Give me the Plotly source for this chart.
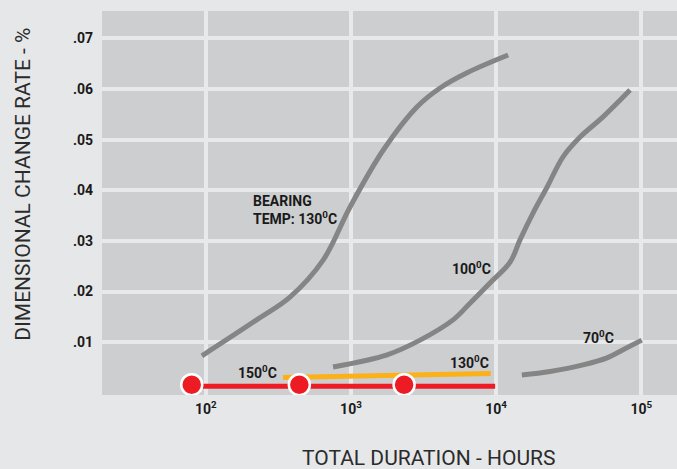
import plotly.graph_objects as go

# ---- data (hours, % change) ----
bearing130_x = [94, 224, 380, 643, 986, 1666, 2858, 4113, 6310, 12100]
bearing130_y = [0.0073, 0.0144, 0.0189, 0.0262, 0.0367, 0.0479, 0.0565, 0.0602, 0.0632, 0.0667]

t100_x = [753, 1775, 2992, 5050, 6610, 9070, 12480, 14600, 17950, 22420, 28900, 37860, 54500, 83700]
t100_y = [0.0051, 0.0075, 0.0104, 0.0144, 0.0177, 0.0217, 0.0258, 0.0302, 0.0355, 0.0406, 0.0466, 0.0505, 0.0545, 0.0598]

t70_x = [15030, 23550, 39720, 58080, 74850, 100700]
t70_y = [0.0035, 0.0042, 0.0055, 0.0069, 0.0085, 0.0104]

t130_x = [340, 9180]
t130_y = [0.0030, 0.0038]

t150_x = [80, 9840]
t150_y = [0.0013, 0.0013]

t150_pts_x = [80, 441, 2323]
t150_pts_y = [0.0016, 0.0016, 0.0016]

x_tickvals = [100, 1000, 10000, 100000]
x_ticktext = ["10<sup>2</sup>", "10<sup>3</sup>", "10<sup>4</sup>", "10<sup>5</sup>"]
y_tickvals = [0.01, 0.02, 0.03, 0.04, 0.05, 0.06, 0.07]
y_ticktext = [".01", ".02", ".03", ".04", ".05", ".06", ".07"]

GRAY = "#858585"
ORANGE = "#fbb117"
RED = "#ed1c24"
FONT = "Roboto"

fig = go.Figure()
for xs, ys in [(bearing130_x, bearing130_y), (t100_x, t100_y), (t70_x, t70_y)]:
    fig.add_trace(go.Scatter(x=xs, y=ys, mode="lines",
                             line=dict(color=GRAY, width=5, shape="spline", smoothing=1.0),
                             hoverinfo="skip"))
fig.add_trace(go.Scatter(x=t130_x, y=t130_y, mode="lines",
                         line=dict(color=ORANGE, width=5), hoverinfo="skip"))
fig.add_trace(go.Scatter(x=t150_x, y=t150_y, mode="lines",
                         line=dict(color=RED, width=5), hoverinfo="skip"))
fig.add_trace(go.Scatter(x=t150_pts_x, y=t150_pts_y, mode="markers",
                         marker=dict(color=RED, size=21, line=dict(color="white", width=2.5)),
                         hoverinfo="skip"))

lab_font = dict(family=FONT, size=14, color="#1a1a1a", weight=700)
def deg(t):
    return t + "<sup>0</sup>C"

anns = [
    dict(x=2.316, y=0.0397, text="BEARING<br>TEMP: " + deg("130"), xanchor="left", yanchor="top", align="left"),
    dict(x=3.970, y=0.0247, text=deg("100"), xanchor="right", yanchor="middle"),
    dict(x=3.958, y=0.0061, text=deg("130"), xanchor="right", yanchor="middle"),
    dict(x=4.819, y=0.0111, text=deg("70"), xanchor="right", yanchor="middle"),
    dict(x=2.213, y=0.0042, text=deg("150"), xanchor="left", yanchor="middle"),
]
for a in anns:
    fig.add_annotation(xref="x", yref="y", showarrow=False, font=lab_font, borderpad=0, **a)

title_font = dict(family=FONT, size=21, color="#2b2b2b")
fig.add_annotation(xref="paper", yref="paper", x=0.567, y=-0.164, text="TOTAL DURATION - HOURS",
                   showarrow=False, xanchor="center", yanchor="middle", font=title_font)
fig.add_annotation(xref="paper", yref="paper", x=-0.139, y=0.548, text="DIMENSIONAL CHANGE RATE - %",
                   showarrow=False, xanchor="center", yanchor="middle", textangle=-90, font=title_font)

fig.update_layout(
    width=677, height=469,
    margin=dict(l=102, r=0, t=11, b=74),
    paper_bgcolor="#e6e7e8",
    plot_bgcolor="#cdcecf",
    showlegend=False,
    xaxis=dict(type="log", range=[1.285, 5.246],
               tickvals=x_tickvals, ticktext=x_ticktext,
               showgrid=True, gridcolor="#e8e9eb", gridwidth=4,
               zeroline=False, showline=False, ticks="",
               ticklabelstandoff=4,
               tickfont=dict(family=FONT, size=14, color="#1a1a1a", weight=700)),
    yaxis=dict(range=[-0.00044, 0.0754],
               tickvals=y_tickvals, ticktext=y_ticktext,
               showgrid=True, gridcolor="#e8e9eb", gridwidth=4,
               zeroline=False, showline=False, ticks="",
               ticklabelstandoff=8,
               tickfont=dict(family=FONT, size=14, color="#1a1a1a", weight=700)),
)

fig.write_html("out.html", config={"displayModeBar": False},
               post_script="document.body.style.margin='0';document.body.style.overflow='hidden';")
